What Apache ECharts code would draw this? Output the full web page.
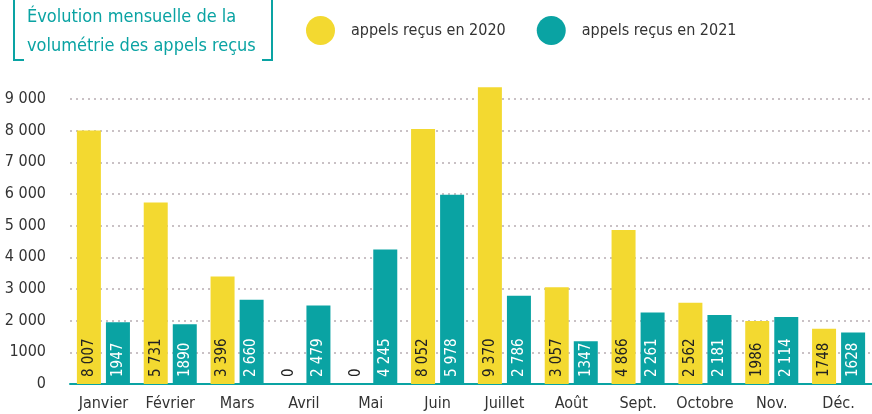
<!DOCTYPE html>
<html>
<head>
<meta charset="utf-8">
<script src="https://cdn.jsdelivr.net/npm/echarts@6/dist/echarts.min.js"></script>
<style>
  html, body { margin: 0; padding: 0; background: #fff; }
  #chart { width: 872px; height: 414px; }
</style>
</head>
<body>
<div id="chart"></div>
<script>
var months = ['Janvier', 'Février', 'Mars', 'Avril', 'Mai', 'Juin', 'Juillet', 'Août', 'Sept.', 'Octobre', 'Nov.', 'Déc.'];
var calls2020 = [8007, 5731, 3396, 0, 0, 8052, 9370, 3057, 4866, 2562, 1986, 1748];
var calls2021 = [1947, 1890, 2660, 2479, 4245, 5978, 2786, 1347, 2261, 2181, 2114, 1628];
var seriesNames = ['appels reçus en 2020', 'appels reçus en 2021'];

var YELLOW = '#f3d930';
var TEAL = '#0aa3a3';
var FONT = '"DejaVu Sans Condensed", "Liberation Sans Narrow", "Roboto", sans-serif';

// 8 007 / 1947 : espace sauf quand ça commence par 1
function fmt(v) {
    var s = String(v);
    if (s.length < 4 || s.charAt(0) === '1') return s;
    return s.slice(0, s.length - 3) + ' ' + s.slice(s.length - 3);
}

var chart = echarts.init(document.getElementById('chart'));
chart.setOption({
    animation: false,
    textStyle: { fontFamily: FONT },
    grid: { left: 70, right: -10, top: 99, bottom: 30, containLabel: false },
    legend: {
        data: seriesNames,
        left: 301,
        top: 11,
        icon: 'circle',
        itemWidth: 29,
        itemHeight: 29,
        itemGap: 31,
        textStyle: { color: '#333', fontSize: 16, fontFamily: FONT, padding: [0, 0, 0, 11] }
    },
    graphic: [
        {
            type: 'polyline',
            shape: { points: [[14, 0], [14, 60], [24, 60]] },
            style: { stroke: TEAL, lineWidth: 2, fill: null }
        },
        {
            type: 'polyline',
            shape: { points: [[262, 60], [272, 60], [272, 0]] },
            style: { stroke: TEAL, lineWidth: 2, fill: null }
        },
        {
            type: 'text',
            left: 27,
            top: 3,
            style: {
                text: 'Évolution mensuelle de la\nvolumétrie des appels reçus',
                fill: TEAL,
                font: '18px ' + FONT,
                lineHeight: 29
            }
        }
    ],
    xAxis: {
        type: 'category',
        data: months,
        axisTick: { show: false },
        axisLine: { show: true, lineStyle: { color: TEAL, width: 2 } },
        axisLabel: { color: '#333', fontSize: 16, margin: 12, interval: 0, fontFamily: FONT }
    },
    yAxis: {
        type: 'value',
        min: 0,
        max: 9000,
        interval: 1000,
        axisLine: { show: false },
        axisTick: { show: false },
        axisLabel: {
            color: '#333',
            fontSize: 16,
            margin: 24,
            fontFamily: FONT,
            formatter: function (v) { return fmt(v); }
        },
        splitLine: {
            lineStyle: { type: [2, 4], color: '#c9c1c5', width: 2 }
        }
    },
    series: [
        {
            name: seriesNames[0],
            type: 'bar',
            clip: false,
            barWidth: 24,
            barGap: '21%',
            itemStyle: { color: YELLOW },
            label: {
                show: true,
                position: 'insideBottom',
                rotate: 90,
                align: 'left',
                verticalAlign: 'middle',
                distance: 7,
                color: '#222',
                fontSize: 15,
                fontFamily: FONT,
                formatter: function (p) { return fmt(p.value); }
            },
            data: calls2020
        },
        {
            name: seriesNames[1],
            type: 'bar',
            clip: false,
            barWidth: 24,
            itemStyle: { color: TEAL },
            label: {
                show: true,
                position: 'insideBottom',
                rotate: 90,
                align: 'left',
                verticalAlign: 'middle',
                distance: 7,
                color: '#fff',
                fontSize: 15,
                fontFamily: FONT,
                formatter: function (p) { return fmt(p.value); }
            },
            data: calls2021
        }
    ]
});
</script>
</body>
</html>
